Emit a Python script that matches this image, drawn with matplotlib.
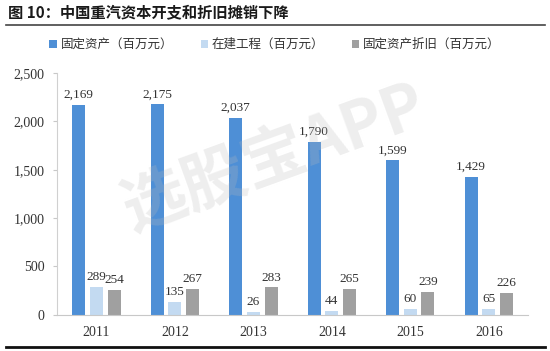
import numpy as np
import matplotlib.pyplot as plt
from matplotlib.lines import Line2D

plt.rcParams['font.family'] = ['Liberation Serif', 'Noto Sans CJK SC', 'DejaVu Sans']

years = ['2011', '2012', '2013', '2014', '2015', '2016']
gudingzichan = [2169, 2175, 2037, 1790, 1599, 1429]
zaijiangongcheng = [289, 135, 26, 44, 60, 65]
zhejiu = [254, 267, 283, 265, 239, 226]
labels = ['固定资产（百万元）', '在建工程（百万元）', '固定资产折旧（百万元）']
colors = ['#4E8FD6', '#C3DAF1', '#A0A0A0']

fig = plt.figure(figsize=(5.5, 3.51), dpi=100)
ax = fig.add_axes([0.104, 0.103, 0.856, 0.689])

x = np.arange(len(years))
w = 0.166
step = 0.225
series = [gudingzichan, zaijiangongcheng, zhejiu]
for i, (vals, c) in enumerate(zip(series, colors)):
    pos = x + (i - 1) * step
    ax.bar(pos, vals, width=w, color=c, label=labels[i])
    for p, v in zip(pos, vals):
        ax.text(p, v + 40, f'{v:,}', ha='center', va='bottom', fontsize=9.5, color='#333333')

ax.set_xlim(-0.5, len(years) - 0.5)
ax.set_ylim(0, 2500)
ax.set_yticks(range(0, 2501, 500))
ax.set_yticklabels([f'{v:,}' for v in range(0, 2501, 500)], fontsize=10, color='#333333')
ax.set_xticks(x)
ax.set_xticklabels(years, fontsize=10, color='#333333')
ax.tick_params(axis='x', length=0, pad=8)
ax.tick_params(axis='y', length=3, width=0.8, color='#C8C8C8', pad=6)
for s in ['top', 'right']:
    ax.spines[s].set_visible(False)
ax.spines['left'].set_color('#D0D0D0')
ax.spines['bottom'].set_color('#C8C8C8')

# watermark
fig.text(0.5, 0.55, '选股宝APP', fontsize=46, color='#BBBBBB', alpha=0.25,
         rotation=20, ha='center', va='center', family=['Noto Sans CJK SC'], fontweight='bold')

# title and rules
fig.text(0.015, 0.962, '图 10：中国重汽资本开支和折旧摊销下降', fontsize=11, fontweight='bold',
         color='#1A1A1A', va='center', family=['Noto Sans CJK SC', 'DejaVu Sans'])
fig.add_artist(Line2D([0.01, 0.99], [0.93, 0.93], color='#444444', lw=1.2))
fig.add_artist(Line2D([0.01, 0.99], [0.012, 0.012], color='#111111', lw=2))

leg = fig.legend(loc='center', bbox_to_anchor=(0.5, 0.873), ncol=3, frameon=False,
                 handlelength=0.6, handleheight=0.6, handletextpad=0.3,
                 columnspacing=2.2, prop={'family': ['Noto Sans CJK SC'], 'size': 9})
for t in leg.get_texts():
    t.set_color('#333333')

fig.savefig('out.png', dpi=100)
